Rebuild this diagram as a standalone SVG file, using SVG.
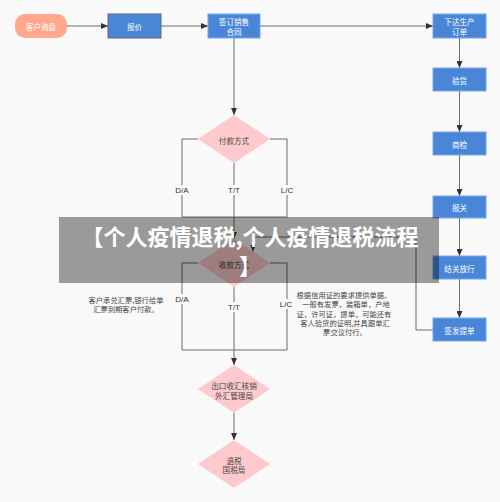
<svg xmlns="http://www.w3.org/2000/svg" width="500" height="502" viewBox="0 0 500 502">
<style>
text{font-family:"Noto Sans CJK SC","Noto Sans",sans-serif;text-anchor:middle;dominant-baseline:central}
.box{fill:#4a86d8;stroke:#7aa6e6;stroke-width:1}
.wt{fill:#fff;font-size:7.6px}
.dia{fill:#ffcacd}
.dt{fill:#444;font-size:7.6px}
.edge{fill:none;stroke:#6b6b6b;stroke-width:1}
.lab{fill:#333;font-size:8px;font-family:"Liberation Sans",sans-serif}
.note{fill:#444;font-size:7.3px}
.lbg{fill:#f9f9f9}
</style>
<defs>
<marker id="arr" markerUnits="userSpaceOnUse" markerWidth="7" markerHeight="6" refX="7" refY="3" orient="auto">
<path d="M0,0 L7,3 L0,6 z" fill="#333"/>
</marker>
</defs>
<rect width="500" height="502" fill="#f9f9f9"/>
<g id="connectors">
<path class="edge" d="M67,26 H108" marker-end="url(#arr)"/>
<path class="edge" d="M161,26 H208" marker-end="url(#arr)"/>
<path class="edge" d="M260,26 H433" marker-end="url(#arr)"/>
<path class="edge" d="M234,38 V115" marker-end="url(#arr)"/>
<path class="edge" d="M459.5,38 V68" marker-end="url(#arr)"/>
<path class="edge" d="M459.5,91 V132" marker-end="url(#arr)"/>
<path class="edge" d="M459.5,155 V196" marker-end="url(#arr)"/>
<path class="edge" d="M459.5,218 V256" marker-end="url(#arr)"/>
<path class="edge" d="M459.5,279 V318" marker-end="url(#arr)"/>
<path class="edge" d="M198,139 H182 V217 H287 V139 H270"/>
<path class="edge" d="M234,163 V239" marker-end="url(#arr)"/>
<path class="edge" d="M433,330 H416 V237 H253 V251.5" marker-end="url(#arr)"/>
<path class="edge" d="M198,263 H182 V350 H287 V263 H270"/>
<path class="edge" d="M234,287 V365" marker-end="url(#arr)"/>
<path class="edge" d="M234,413 V440" marker-end="url(#arr)"/>
<rect class="lbg" x="174" y="185" width="16" height="10"/>
<text class="lab" x="182" y="190">D/A</text>
<rect class="lbg" x="227" y="185" width="14" height="10"/>
<text class="lab" x="234" y="190">T/T</text>
<rect class="lbg" x="280" y="185" width="14" height="10"/>
<text class="lab" x="287" y="190">L/C</text>
<rect class="lbg" x="174" y="294" width="16" height="10"/>
<text class="lab" x="182" y="299">D/A</text>
<rect class="lbg" x="227" y="302" width="14" height="10"/>
<text class="lab" x="234" y="307">T/T</text>
<rect class="lbg" x="279" y="299" width="14" height="10"/>
<text class="lab" x="286" y="304">L/C</text>
</g>
<g id="n-inquiry"><rect x="15" y="14" width="52" height="24" rx="10" fill="#ffa88c"/><text class="wt" x="41" y="26">客户询盘</text></g>
<g id="n-quote"><rect class="box" x="108" y="14" width="53" height="24" style="stroke:#5a6a80"/><text class="wt" x="134.5" y="26">报价</text></g>
<g id="n-contract"><rect class="box" x="208" y="14" width="52" height="24"/><text class="wt" x="234" y="21.5">签订销售</text><text class="wt" x="234" y="31">合同</text></g>
<g id="n-order"><rect class="box" x="433" y="14" width="53" height="24"/><text class="wt" x="459.5" y="21.5">下达生产</text><text class="wt" x="459.5" y="31">订单</text></g>
<g id="n-inspect"><rect class="box" x="433" y="68" width="53" height="23"/><text class="wt" x="459.5" y="80">验货</text></g>
<g id="n-ciq"><rect class="box" x="433" y="132" width="53" height="23"/><text class="wt" x="459.5" y="144">商检</text></g>
<g id="n-customs"><rect class="box" x="433" y="196" width="53" height="22"/><text class="wt" x="459.5" y="207">报关</text></g>
<g id="n-release"><rect class="box" x="433" y="256" width="53" height="23"/><text class="wt" x="459.5" y="268">结关放行</text></g>
<g id="n-bl"><rect class="box" x="433" y="318" width="53" height="23"/><text class="wt" x="459.5" y="330">签发提单</text></g>
<g id="n-pay"><polygon class="dia" points="234,115 270,139 234,163 198,139"/><text class="dt" x="234" y="140">付款方式</text></g>
<g id="n-collect"><polygon class="dia" points="234,239 270,263 234,287 198,263"/><text class="dt" x="234" y="264">收款方式</text></g>
<g id="n-forex"><polygon class="dia" points="234,365 270,389 234,413 198,389"/><text class="dt" x="234" y="385">出口收汇核销</text><text class="dt" x="234" y="395">外汇管理局</text></g>
<g id="n-refund"><polygon class="dia" points="234,440 270,464 234,488 198,464"/><text class="dt" x="234" y="460">退税</text><text class="dt" x="234" y="469.5">国税局</text></g>
<g id="note-da">
<text class="note" x="126" y="300">客户承兑汇票,银行给单</text>
<text class="note" x="126" y="309">汇票到期客户付款。</text>
</g>
<g id="note-lc">
<text class="note" x="344" y="295">根据信用证的要求提供单据。</text>
<text class="note" x="346" y="304">一般有发票，装箱单，产地</text>
<text class="note" x="344" y="313.5">证，许可证，提单，可能还有</text>
<text class="note" x="345" y="323">客人验货的证明,并具跟单汇</text>
<text class="note" x="345" y="332">票交议付行。</text>
</g>
<g id="title-overlay">
<rect x="59" y="217" width="380" height="66" fill="#000" fill-opacity="0.38"/>
<text x="250" y="235" fill="#fff" font-size="22" font-weight="bold">【个人疫情退税,个人疫情退税流程</text>
<text x="250" y="264" fill="#fff" font-size="22" font-weight="bold">】</text>
</g>
</svg>
